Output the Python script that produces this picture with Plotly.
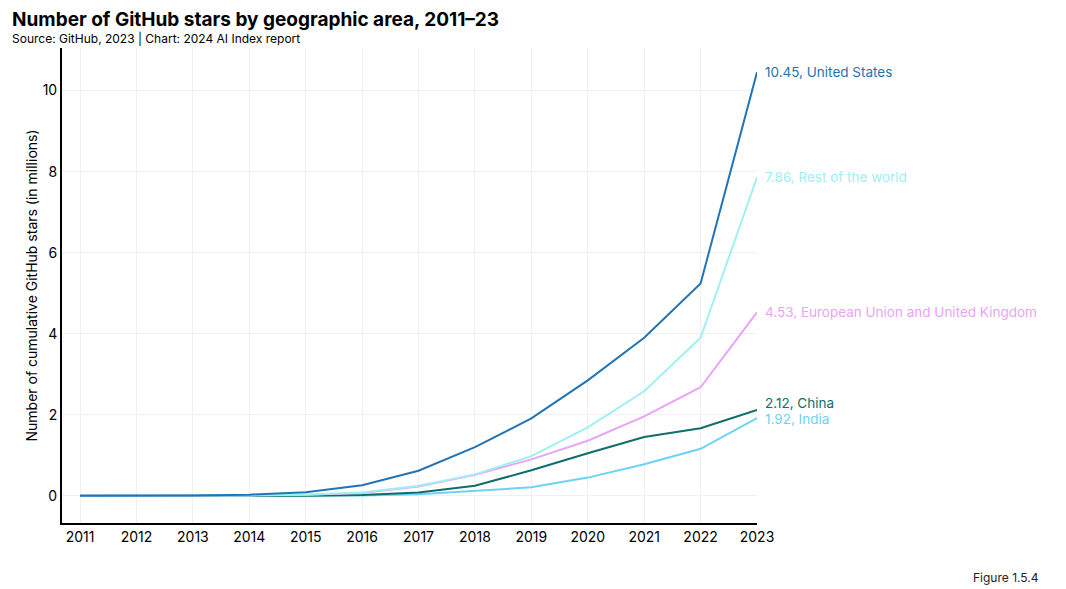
import plotly.graph_objects as go

years = list(range(2011, 2024))
us = [0.0, 0.0, 0.01, 0.03, 0.09, 0.26, 0.62, 1.2, 1.91, 2.85, 3.9, 5.24, 10.45]
rest = [0.0, 0.0, 0.0, 0.01, 0.03, 0.08, 0.25, 0.53, 0.98, 1.69, 2.58, 3.9, 7.86]
eu = [0.0, 0.0, 0.0, 0.01, 0.03, 0.07, 0.23, 0.52, 0.9, 1.36, 1.96, 2.68, 4.53]
china = [0.0, 0.0, 0.0, 0.0, 0.0, 0.02, 0.08, 0.25, 0.63, 1.05, 1.45, 1.67, 2.12]
india = [0.0, 0.0, 0.0, 0.0, 0.0, 0.01, 0.04, 0.13, 0.21, 0.45, 0.78, 1.16, 1.92]

series = [
    ("United States", us, "#2174b5", 0),
    ("Rest of the world", rest, "#9ef0f2", 0),
    ("European Union and United Kingdom", eu, "#e8a5f5", 0),
    ("China", china, "#0e6e6c", 7),
    ("India", india, "#6cd3f7", -1),
]
draw_order = ["India", "China", "European Union and United Kingdom", "Rest of the world", "United States"]

FONT = "Inter, Roboto, sans-serif"
fig = go.Figure()
lookup = {s[0]: s for s in series}
for name in draw_order:
    n, vals, col, _ = lookup[name]
    fig.add_trace(go.Scatter(x=years, y=vals, mode="lines", name=n,
                             line=dict(color=col, width=2), showlegend=False,
                             hoverinfo="skip"))

for n, vals, col, ys in series:
    fig.add_annotation(x=years[-1], y=vals[-1], text=f"{vals[-1]:.2f}, {n}",
                       xanchor="left", yanchor="middle", showarrow=False,
                       xshift=6, yshift=ys, font=dict(family=FONT, size=13.5, color=col))

fig.add_annotation(xref="paper", yref="paper", x=-0.075, y=1.059,
                   text="<b>Number of GitHub stars by geographic area, 2011–23</b>",
                   xanchor="left", yanchor="middle", showarrow=False,
                   font=dict(family=FONT, size=19, color="#000000"))
fig.add_annotation(xref="paper", yref="paper", x=-0.075, y=1.019,
                   text="Source: GitHub, 2023 | Chart: 2024 AI Index report",
                   xanchor="left", yanchor="middle", showarrow=False,
                   font=dict(family=FONT, size=12, color="#000000"))
fig.add_annotation(xref="paper", yref="paper", x=1.408, y=-0.114,
                   text="Figure 1.5.4", xanchor="right", yanchor="middle", showarrow=False,
                   font=dict(family=FONT, size=12, color="#222222"))

fig.update_layout(
    width=1058, height=581,
    margin=dict(l=54, r=309, t=40, b=66),
    paper_bgcolor="white", plot_bgcolor="white",
    font=dict(family=FONT, size=14, color="#000000"),
    xaxis=dict(range=[2010.68, 2023], tickmode="array", tickvals=years,
               ticktext=[str(y) for y in years], showgrid=True, gridcolor="#f0f0f0",
               showline=True, linecolor="#000000", linewidth=2, zeroline=False,
               ticks="", tickfont=dict(size=14), automargin=False),
    yaxis=dict(range=[-0.67, 11.05], tickvals=[0, 2, 4, 6, 8, 10], showgrid=True,
               gridcolor="#f0f0f0", showline=True, linecolor="#000000", linewidth=2,
               zeroline=False, ticks="", ticklabelstandoff=0, automargin=False,
               title=dict(text="Number of cumulative GitHub stars (in millions)",
                          font=dict(size=14), standoff=2),
               tickfont=dict(size=14)),
)

fig.write_html("out.html")
